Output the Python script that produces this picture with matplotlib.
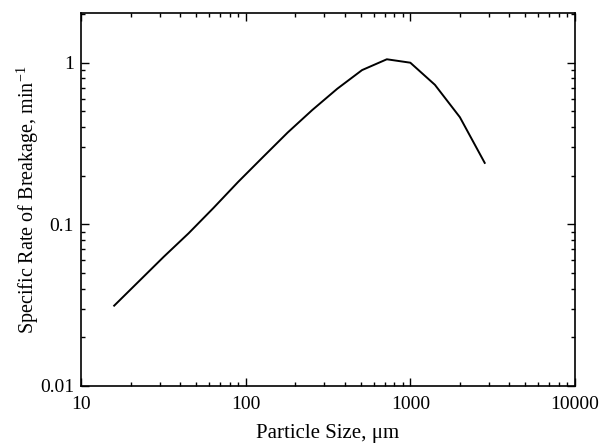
import matplotlib
matplotlib.use("Agg")
import matplotlib.pyplot as plt
from matplotlib.ticker import LogLocator, FixedLocator, FixedFormatter, NullFormatter

plt.rcParams['font.family'] = ['Liberation Serif', 'DejaVu Serif']
plt.rcParams['mathtext.fontset'] = 'custom'
plt.rcParams['mathtext.rm'] = 'Liberation Serif'
plt.rcParams['mathtext.it'] = 'Liberation Serif:italic'

particle_size = [15.9, 22.5, 31.8, 45, 63.6, 90, 127, 180, 254, 360, 509, 720, 1000, 1410, 2000, 2830]
breakage_rate = [0.0314, 0.0445, 0.063, 0.088, 0.126, 0.183, 0.26, 0.37, 0.51, 0.69, 0.90, 1.05, 1.00, 0.73, 0.46, 0.24]

x_ticks = [10, 100, 1000, 10000]
x_tick_labels = ['10', '100', '1000', '10000']
y_ticks = [0.01, 0.1, 1]
y_tick_labels = ['0.01', '0.1', '1']

fig = plt.figure(figsize=(6.01, 4.45), dpi=100)
ax = fig.add_axes([0.1348, 0.1326, 0.9567 - 0.1348, 0.9708 - 0.1326])
ax.plot(particle_size, breakage_rate, color='black', linewidth=1.4)
ax.set_xscale('log')
ax.set_yscale('log')
ax.set_xlim(10, 10000)
ax.set_ylim(0.01, 2.03)

ax.xaxis.set_major_locator(FixedLocator(x_ticks))
ax.xaxis.set_major_formatter(FixedFormatter(x_tick_labels))
ax.yaxis.set_major_locator(FixedLocator(y_ticks))
ax.yaxis.set_major_formatter(FixedFormatter(y_tick_labels))
ax.xaxis.set_minor_locator(LogLocator(base=10, subs=range(2, 10)))
ax.yaxis.set_minor_locator(LogLocator(base=10, subs=range(2, 10)))
ax.xaxis.set_minor_formatter(NullFormatter())
ax.yaxis.set_minor_formatter(NullFormatter())

ax.tick_params(which='both', direction='in', top=True, right=True, width=1.0, colors='black')
ax.tick_params(which='major', length=6, labelsize=14)
ax.tick_params(axis='x', which='major', pad=7)
ax.tick_params(axis='y', which='major', pad=5)
ax.tick_params(which='minor', length=3)
for s in ax.spines.values():
    s.set_linewidth(1.2)

ax.set_xlabel('Particle Size, \u03bcm', fontsize=15, labelpad=8)
ax.set_ylabel('Specific Rate of Breakage, min$^{-1}$', fontsize=14.5, labelpad=-1)

fig.savefig('out.png', dpi=100)
